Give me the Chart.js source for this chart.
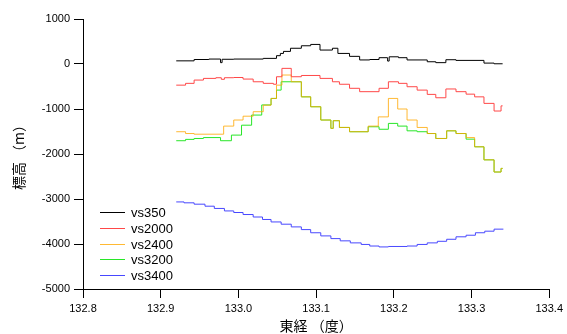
<!DOCTYPE html>
<html>
<head>
<meta charset="utf-8">
<script src="https://cdn.jsdelivr.net/npm/chart.js@4"></script>
<style>
  html, body { margin: 0; padding: 0; background: #fff; }
  #wrap { width: 567px; height: 334px; }
</style>
</head>
<body>
<div id="wrap"><canvas id="profile"></canvas></div>
<script>
// --- DATOS ---
const seriesNames = ['vs350', 'vs2000', 'vs2400', 'vs3200', 'vs3400'];

const vs350Lon  = [132.920, 132.943, 132.962, 132.977, 132.979, 132.994, 133.032, 133.049, 133.054, 133.058, 133.067, 133.081, 133.093, 133.105, 133.121, 133.128, 133.143, 133.156, 133.169, 133.181, 133.192, 133.194, 133.206, 133.217, 133.243, 133.254, 133.267, 133.280, 133.316, 133.329, 133.340];
const vs350Elev = [70, 100, 110, 30, 105, 110, 125, 185, 235, 280, 350, 405, 435, 310, 350, 235, 170, 90, 100, 140, 65, 160, 140, 90, 50, 30, 95, 80, 20, 5, 5];

const vs2000Lon  = [132.920, 132.932, 132.943, 132.955, 132.971, 132.978, 132.982, 132.994, 133.006, 133.019, 133.032, 133.045, 133.049, 133.056, 133.068, 133.081, 133.105, 133.121, 133.130, 133.143, 133.156, 133.181, 133.193, 133.206, 133.217, 133.230, 133.243, 133.254, 133.267, 133.280, 133.293, 133.304, 133.316, 133.329, 133.338, 133.340];
const vs2000Elev = [-470, -430, -357, -320, -305, -340, -305, -300, -335, -395, -430, -450, -283, -97, -283, -255, -320, -395, -450, -540, -615, -540, -395, -430, -505, -580, -675, -750, -555, -615, -670, -730, -875, -1045, -930, -930];

const vs2400Lon  = [132.920, 132.932, 132.943, 132.981, 132.994, 133.006, 133.019, 133.032, 133.042, 133.049, 133.056, 133.068, 133.081, 133.093, 133.106, 133.119, 133.122, 133.130, 133.143, 133.167, 133.180, 133.193, 133.205, 133.217, 133.230, 133.243, 133.254, 133.268, 133.280, 133.293, 133.304, 133.316, 133.329, 133.338, 133.340];
const vs2400Elev = [-1505, -1545, -1560, -1380, -1245, -1160, -1060, -915, -765, -470, -245, -395, -730, -950, -1245, -1430, -1260, -1410, -1505, -1380, -1175, -765, -1000, -1245, -1410, -1545, -1655, -1485, -1545, -1635, -1840, -2130, -2400, -2320, -2320];

const vs3200Lon  = [132.920, 132.932, 132.943, 132.955, 132.977, 132.991, 133.004, 133.017, 133.030, 133.042, 133.049, 133.055, 133.081, 133.093, 133.106, 133.119, 133.122, 133.130, 133.143, 133.167, 133.181, 133.193, 133.205, 133.217, 133.230, 133.243, 133.254, 133.268, 133.280, 133.293, 133.304, 133.316, 133.329, 133.338, 133.340];
const vs3200Elev = [-1705, -1675, -1655, -1635, -1705, -1580, -1360, -1135, -910, -765, -580, -395, -730, -950, -1245, -1430, -1260, -1410, -1505, -1395, -1450, -1320, -1380, -1485, -1505, -1545, -1655, -1485, -1545, -1670, -1840, -2130, -2400, -2320, -2320];

const vs3400Lon  = [132.920, 132.930, 132.943, 132.957, 132.969, 132.982, 132.994, 133.006, 133.019, 133.031, 133.042, 133.055, 133.068, 133.081, 133.093, 133.106, 133.119, 133.131, 133.144, 133.158, 133.169, 133.181, 133.193, 133.217, 133.230, 133.243, 133.256, 133.268, 133.280, 133.293, 133.305, 133.317, 133.329, 133.341];
const vs3400Elev = [-3065, -3085, -3115, -3160, -3210, -3265, -3300, -3345, -3400, -3455, -3510, -3560, -3620, -3680, -3750, -3820, -3880, -3930, -3975, -4010, -4045, -4065, -4055, -4045, -4010, -3975, -3940, -3895, -3840, -3805, -3750, -3715, -3670, -3670];

const xTickLabels = ['132.8', '132.9', '133.0', '133.1', '133.2', '133.3', '133.4'];
const yTickLabels = ['-5000', '-4000', '-3000', '-2000', '-1000', '0', '1000'];

const lineColors = ['#000000', '#ff4848', 'rgba(255,168,0,0.8)', '#28e628', '#4848ff'];

// --- CONSTRUCCIÓN ---
function toPoints(lons, elevs) {
    return lons.map((lon, i) => ({ x: lon, y: elevs[i] }));
}

const allLon = [vs350Lon, vs2000Lon, vs2400Lon, vs3200Lon, vs3400Lon];
const allElev = [vs350Elev, vs2000Elev, vs2400Elev, vs3200Elev, vs3400Elev];

const datasets = seriesNames.map((name, i) => ({
    label: name,
    data: toPoints(allLon[i], allElev[i]),
    borderColor: lineColors[i],
    borderWidth: 1,
    pointRadius: 0,
    stepped: true,
    fill: false
}));

// Leyenda dibujada dentro del área del gráfico (abajo a la izquierda)
const innerLegend = {
    id: 'innerLegend',
    afterDraw(chart) {
        const ctx = chart.ctx;
        const area = chart.chartArea;
        const x0 = area.left + 17;
        const y0 = area.top + 193;
        ctx.save();
        ctx.font = '13px "Liberation Sans", Arial, sans-serif';
        ctx.textBaseline = 'middle';
        chart.data.datasets.forEach((ds, i) => {
            const y = Math.round(y0 + i * 15.8) + 0.5;
            ctx.strokeStyle = ds.borderColor;
            ctx.lineWidth = 1;
            ctx.beginPath();
            ctx.moveTo(x0, y);
            ctx.lineTo(x0 + 25, y);
            ctx.stroke();
            ctx.fillStyle = '#000';
            ctx.fillText(ds.label, x0 + 31, y + 1);
        });
        ctx.restore();
    }
};

const tickFont = { family: '"Liberation Sans", Arial, sans-serif', size: 11 };
const titleFont = { family: '"Noto Sans CJK JP", sans-serif', size: 14 };

new Chart(document.getElementById('profile'), {
    type: 'line',
    data: { datasets: datasets },
    options: {
        responsive: true,
        maintainAspectRatio: false,
        animation: false,
        layout: { padding: { top: 19, right: 14, left: 0, bottom: 0 } },
        plugins: {
            legend: { display: false },
            tooltip: { enabled: false }
        },
        scales: {
            x: {
                type: 'linear',
                min: 132.8,
                max: 133.4,
                afterBuildTicks: (scale) => {
                    scale.ticks = xTickLabels.map(v => ({ value: parseFloat(v) }));
                },
                ticks: {
                    color: '#000',
                    font: tickFont,
                    padding: 4,
                    maxRotation: 0,
                    callback: (value, index) => xTickLabels[index]
                },
                grid: { drawOnChartArea: false, tickLength: 9, color: '#000', tickColor: '#000' },
                border: { color: '#000', width: 1 },
                title: { display: true, text: '東経 （度）', color: '#000', font: titleFont, padding: { top: 0, bottom: 0 } },
                afterFit: (scale) => { scale.height = 45; }
            },
            y: {
                type: 'linear',
                min: -5000,
                max: 1000,
                afterBuildTicks: (scale) => {
                    scale.ticks = yTickLabels.map(v => ({ value: parseFloat(v) }));
                },
                ticks: {
                    color: '#000',
                    font: tickFont,
                    padding: 4,
                    callback: (value, index) => yTickLabels[index]
                },
                grid: { drawOnChartArea: false, tickLength: 9, color: '#000', tickColor: '#000' },
                border: { color: '#000', width: 1 },
                title: { display: true, text: '標高 （m）', color: '#000', font: titleFont, padding: { top: 10, bottom: 0 } },
                afterFit: (scale) => { scale.width = 83; }
            }
        }
    },
    plugins: [innerLegend]
});
</script>
</body>
</html>
